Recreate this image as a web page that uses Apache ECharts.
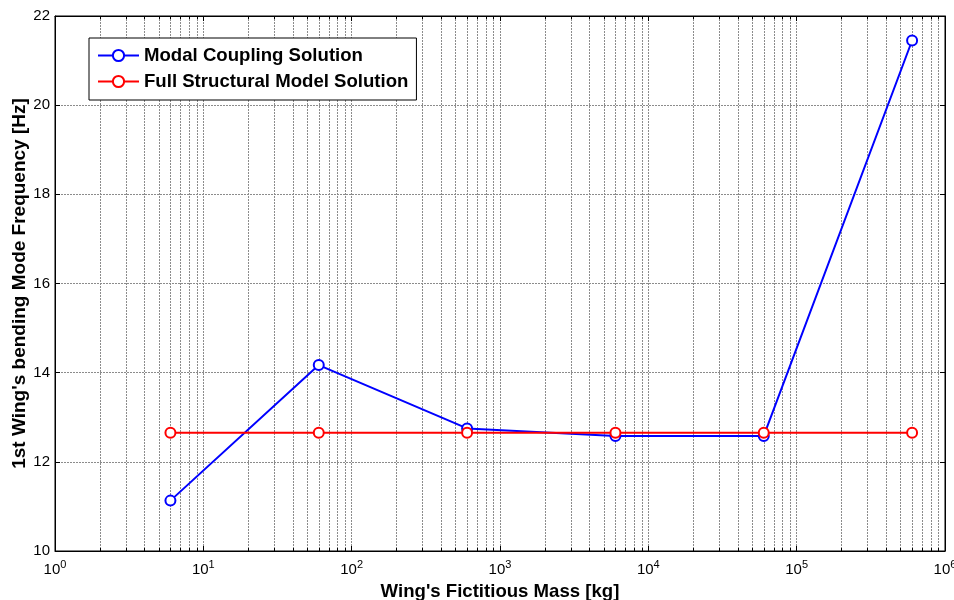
<!DOCTYPE html>
<html>
<head>
<meta charset="utf-8">
<script src="https://cdn.jsdelivr.net/npm/echarts@6/dist/echarts.min.js"></script>
<style>
html,body{margin:0;padding:0;background:#fff;}
#c{width:954px;height:600px;}
</style>
</head>
<body>
<div id="c"></div>
<script>
const massKg = [6, 60, 600, 6000, 60000, 600000];
const modalCoupling = [11.13, 14.17, 12.75, 12.58, 12.58, 21.45];
const fullStructural = [12.65, 12.65, 12.65, 12.65, 12.65, 12.65];
const minorX = [];
for (let d = 1; d <= 100000; d *= 10) {
  for (let k = 2; k <= 9; k++) minorX.push(k * d);
}
const yTicks = [10, 12, 14, 16, 18, 20, 22];

const FONT = '"Liberation Sans", Arial, sans-serif';
const gridColor = '#8c8c8c';
const gridDash = [2, 1];

const chart = echarts.init(document.getElementById('c'), null, {renderer: 'canvas'});

const tickStyle = {show: true, inside: true, length: 5, lineStyle: {color: '#000', width: 1}};

const option = {
  animation: false,
  backgroundColor: '#fff',
  grid: {left: 55, right: 9, top: 16, bottom: 49, containLabel: false, outerBoundsMode: 'none',
         show: true, borderColor: '#000', borderWidth: 1, backgroundColor: 'transparent'},
  legend: {
    orient: 'vertical',
    left: 89, top: 38,
    backgroundColor: '#fff',
    borderColor: '#000',
    borderWidth: 1,
    borderRadius: 0,
    padding: [8, 8, 9, 8],
    itemGap: 7,
    itemWidth: 41,
    itemHeight: 14,
    textStyle: {fontFamily: FONT, fontWeight: 'bold', fontSize: 18.6, color: '#000'},
    data: ['Modal Coupling Solution', 'Full Structural Model Solution']
  },
  xAxis: [{
    type: 'log', logBase: 10, min: 1, max: 1000000, interval: 1,
    position: 'bottom',
    name: "Wing's Fictitious Mass [kg]",
    nameLocation: 'middle', nameGap: 31, nameMoveOverlap: false,
    nameTextStyle: {fontFamily: FONT, fontWeight: 'bold', fontSize: 18.6, color: '#000'},
    axisLine: {show: true, onZero: false, lineStyle: {color: '#000', width: 1}},
    axisTick: tickStyle,
    splitLine: {show: true, lineStyle: {color: gridColor, type: gridDash, width: 1}},
    axisLabel: {
      margin: 8,
      formatter: v => '{b|10}{s|' + Math.round(Math.log10(v)) + '}',
      rich: {
        b: {fontFamily: FONT, fontSize: 15, color: '#000', lineHeight: 18, verticalAlign: 'bottom'},
        s: {fontFamily: FONT, fontSize: 11, color: '#000', lineHeight: 18, verticalAlign: 'top', padding: [0, 0, 8, 0]}
      }
    }
  }, {
    type: 'log', logBase: 10, min: 1, max: 1000000, interval: 1,
    position: 'top',
    axisLine: {show: true, onZero: false, lineStyle: {color: '#000', width: 1}},
    axisTick: tickStyle,
    axisLabel: {show: false},
    splitLine: {show: false}
  }],
  yAxis: [{
    type: 'value', min: 10, max: 22, interval: 2,
    position: 'left',
    name: "1st Wing's bending Mode Frequency [Hz]",
    nameLocation: 'middle', nameGap: 26, nameMoveOverlap: false,
    nameTextStyle: {fontFamily: FONT, fontWeight: 'bold', fontSize: 19, color: '#000'},
    axisLine: {show: true, onZero: false, lineStyle: {color: '#000', width: 1}},
    axisTick: tickStyle,
    splitLine: {show: true, lineStyle: {color: gridColor, type: gridDash, width: 1}},
    axisLabel: {fontFamily: FONT, fontSize: 15, color: '#000', margin: 5}
  }, {
    type: 'value', min: 10, max: 22, interval: 2,
    position: 'right',
    axisLine: {show: true, onZero: false, lineStyle: {color: '#000', width: 1}},
    axisTick: tickStyle,
    axisLabel: {show: false},
    splitLine: {show: false}
  }],
  series: [{
    type: 'custom',
    name: 'minor',
    silent: true,
    z: 1,
    data: minorX.map(v => [v, 10]),
    renderItem: function (params, api) {
      const cs = params.coordSys;
      const p = api.coord([api.value(0), 10]);
      const x = Math.round(p[0]) + 0.5;
      const top = cs.y, bot = cs.y + cs.height;
      return {
        type: 'group',
        children: [
          {type: 'line', shape: {x1: x, y1: top, x2: x, y2: bot}, style: {stroke: gridColor, lineWidth: 1, lineDash: gridDash}},
          {type: 'line', shape: {x1: x, y1: bot, x2: x, y2: bot - 3}, style: {stroke: '#000', lineWidth: 1}},
          {type: 'line', shape: {x1: x, y1: top, x2: x, y2: top + 3}, style: {stroke: '#000', lineWidth: 1}}
        ]
      };
    }
  }, {
    name: 'Modal Coupling Solution',
    type: 'line',
    z: 3,
    data: massKg.map((m, i) => [m, modalCoupling[i]]),
    symbol: 'emptyCircle', symbolSize: 10,
    lineStyle: {color: '#0000ff', width: 2},
    itemStyle: {color: '#0000ff', borderColor: '#0000ff', borderWidth: 2}
  }, {
    name: 'Full Structural Model Solution',
    type: 'line',
    z: 4,
    data: massKg.map((m, i) => [m, fullStructural[i]]),
    symbol: 'emptyCircle', symbolSize: 10,
    lineStyle: {color: '#ff0000', width: 2},
    itemStyle: {color: '#ff0000', borderColor: '#ff0000', borderWidth: 2}
  }]
};
chart.setOption(option);
</script>
</body>
</html>
